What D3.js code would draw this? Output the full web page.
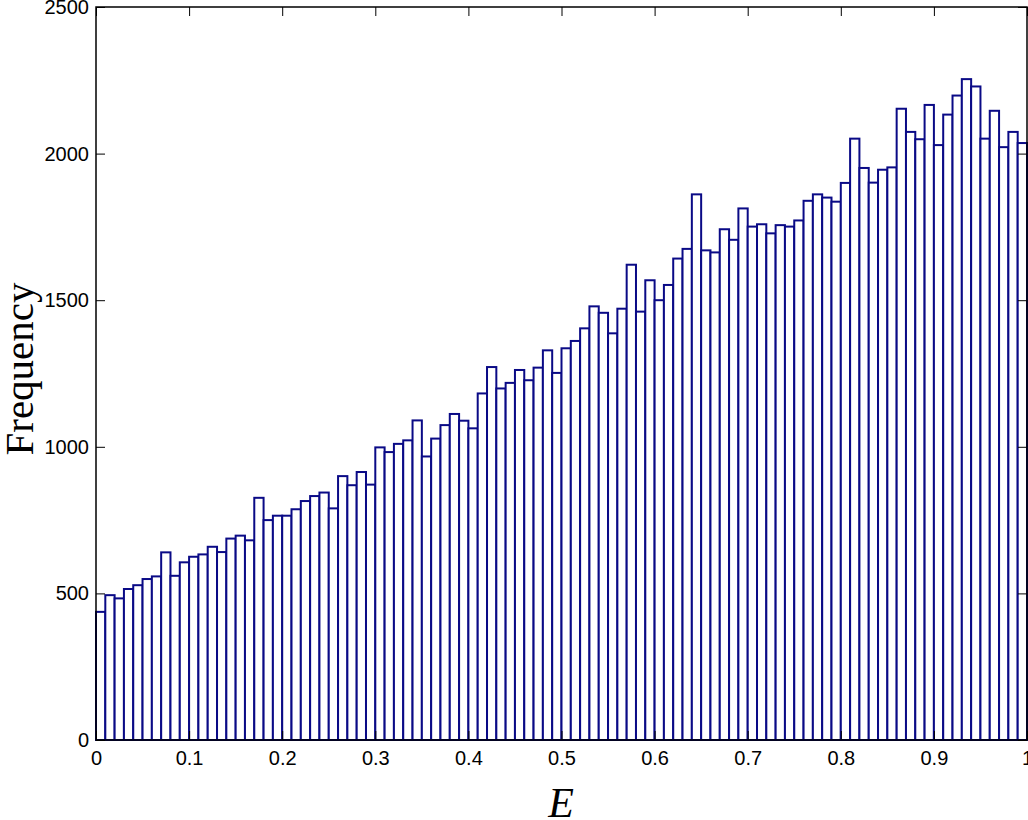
<!DOCTYPE html>
<html>
<head>
<meta charset="utf-8">
<script src="https://cdn.jsdelivr.net/npm/d3@7"></script>
<style>
  html, body { margin: 0; padding: 0; background: #fff; }
  svg { display: block; }
</style>
</head>
<body>
<svg id="chart" width="1028" height="820"></svg>
<script>
// Histogram counts for 100 bins of width 0.01 on [0, 1]
const counts = [
  437, 494, 483, 515, 528, 549, 558, 640, 560, 606,
  625, 633, 659, 641, 687, 697, 681, 826, 750, 765,
  765, 787, 815, 832, 844, 790, 900, 869, 914, 871,
  998, 982, 1010, 1022, 1090, 967, 1028, 1074, 1112, 1089,
  1063, 1182, 1272, 1199, 1218, 1262, 1227, 1270, 1329, 1252,
  1336, 1361, 1404, 1479, 1457, 1387, 1471, 1621, 1461, 1568,
  1500, 1552, 1642, 1675, 1861, 1670, 1663, 1742, 1706, 1813,
  1751, 1759, 1728, 1756, 1751, 1772, 1839, 1861, 1850, 1836,
  1900, 2051, 1951, 1901, 1945, 1953, 2153, 2074, 2049, 2166,
  2029, 2133, 2198, 2254, 2229, 2051, 2146, 2022, 2074, 2036
];
const binWidth = 0.01;
const xTicks = [0, 0.1, 0.2, 0.3, 0.4, 0.5, 0.6, 0.7, 0.8, 0.9, 1];
const yTicks = [0, 500, 1000, 1500, 2000, 2500];
const xLabel = "E";
const yLabel = "Frequency";

const svg = d3.select("#chart");
const mLeft = 96, mRight = 1027, mTop = 7, mBottom = 740;

const x = d3.scaleLinear().domain([0, 1]).range([mLeft, mRight]);
const y = d3.scaleLinear().domain([0, 2500]).range([mBottom, mTop]);

// Bars
svg.append("g").selectAll("rect")
  .data(counts)
  .join("rect")
  .attr("x", (d, i) => x(i * binWidth))
  .attr("width", (d, i) => x((i + 1) * binWidth) - x(i * binWidth))
  .attr("y", d => y(d))
  .attr("height", d => y(0) - y(d))
  .attr("fill", "#ffffff")
  .attr("stroke", "#0a0a86")
  .attr("stroke-width", 2);

const tickFont = "'Liberation Sans', Arial, Helvetica, sans-serif";
const tickLen = 9;

const yAxisL = d3.axisLeft(y).tickValues(yTicks).tickSizeInner(-tickLen).tickSizeOuter(0).tickPadding(7).tickFormat(d3.format("d"));
const yAxisR = d3.axisRight(y).tickValues(yTicks).tickSizeInner(-tickLen).tickSizeOuter(0).tickFormat("");
const xAxisB = d3.axisBottom(x).tickValues(xTicks).tickSizeInner(-tickLen).tickSizeOuter(0).tickPadding(11).tickFormat(d => String(+d.toFixed(1)));
const xAxisT = d3.axisTop(x).tickValues(xTicks).tickSizeInner(-tickLen).tickSizeOuter(0).tickFormat("");

function style(g) {
  g.select(".domain").remove();
  g.attr("font-size", 20).attr("font-family", tickFont);
  g.selectAll(".tick line").attr("stroke", "#000").attr("stroke-width", 1);
  g.selectAll("text").attr("fill", "#000").style("font-family", tickFont).style("font-size", "20px");
}

svg.append("g").attr("transform", `translate(${mLeft},0)`).call(yAxisL).call(style);
svg.append("g").attr("transform", `translate(${mRight},0)`).call(yAxisR).call(style);
svg.append("g").attr("transform", `translate(0,${mBottom})`).call(xAxisB).call(style);
svg.append("g").attr("transform", `translate(0,${mTop})`).call(xAxisT).call(style);

svg.append("rect")
  .attr("x", mLeft).attr("y", mTop)
  .attr("width", mRight - mLeft).attr("height", mBottom - mTop)
  .attr("fill", "none").attr("stroke", "#000").attr("stroke-width", 1.5);

svg.append("text")
  .attr("x", 561).attr("y", 817)
  .attr("text-anchor", "middle")
  .style("font-family", "'Liberation Serif', 'DejaVu Serif', serif")
  .style("font-style", "italic")
  .style("font-size", "42px")
  .text(xLabel);

svg.append("text")
  .attr("transform", `translate(33, 369) rotate(-90)`)
  .attr("text-anchor", "middle")
  .style("font-family", "'Liberation Serif', 'DejaVu Serif', serif")
  .style("font-size", "41px")
  .text(yLabel);
</script>
</body>
</html>
